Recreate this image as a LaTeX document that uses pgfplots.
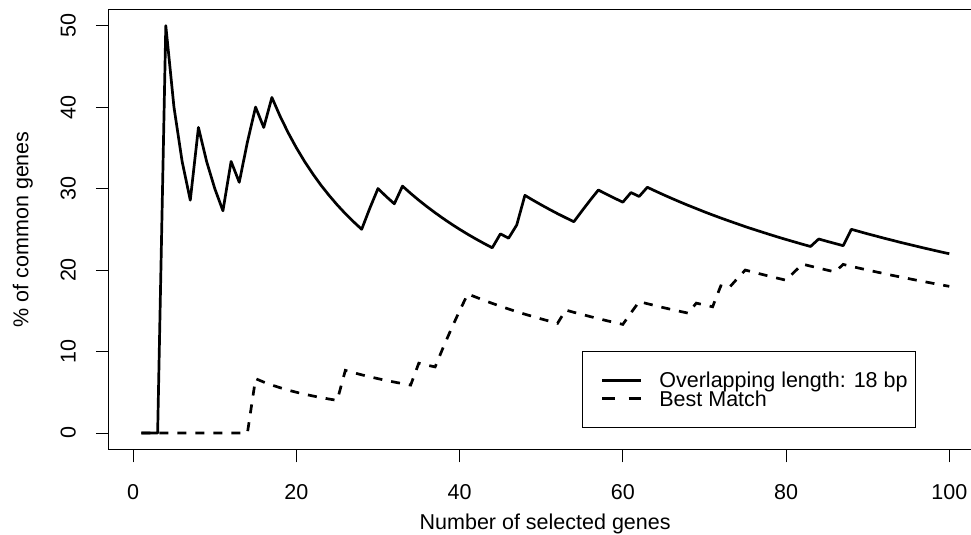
\documentclass[border=0pt]{standalone}
\usepackage{pgfplots}
\pgfplotsset{compat=1.18}
\usepackage{pgfplotstable}
\usepackage{fontspec}
\setmainfont{Liberation Sans}

% n, overlapping length 18 bp, best match  (% of common genes)
\pgfplotstableread{
n ov bm
1 0 0
2 0 0
3 0 0
4 50 0
5 40 0
6 33.33 0
7 28.57 0
8 37.5 0
9 33.33 0
10 30 0
11 27.27 0
12 33.33 0
13 30.77 0
14 35.71 0
15 40 6.67
16 37.5 6.25
17 41.18 5.88
18 38.89 5.56
19 36.84 5.26
20 35 5
21 33.33 4.76
22 31.82 4.55
23 30.43 4.35
24 29.17 4.17
25 28 4
26 26.92 7.69
27 25.93 7.41
28 25 7.14
29 27.59 6.90
30 30 6.67
31 29.03 6.45
32 28.13 6.25
33 30.30 6.06
34 29.41 5.88
35 28.57 8.57
36 27.78 8.33
37 27.03 8.11
38 26.32 10.53
39 25.64 12.82
40 25 15
41 24.39 17.07
42 23.81 16.67
43 23.26 16.28
44 22.73 15.91
45 24.44 15.56
46 23.91 15.22
47 25.53 14.89
48 29.17 14.58
49 28.57 14.29
50 28 14
51 27.45 13.73
52 26.92 13.46
53 26.42 15.09
54 25.93 14.81
55 27.27 14.55
56 28.57 14.29
57 29.82 14.04
58 29.31 13.79
59 28.81 13.56
60 28.33 13.33
61 29.51 14.75
62 29.03 16.13
63 30.16 15.87
64 29.69 15.63
65 29.23 15.38
66 28.79 15.15
67 28.36 14.93
68 27.94 14.71
69 27.54 15.94
70 27.14 15.71
71 26.76 15.49
72 26.39 18.06
73 26.03 17.81
74 25.68 18.92
75 25.33 20
76 25 19.74
77 24.68 19.48
78 24.36 19.23
79 24.05 18.99
80 23.75 18.75
81 23.46 19.75
82 23.17 20.73
83 22.89 20.48
84 23.81 20.24
85 23.53 20
86 23.26 19.77
87 22.99 20.69
88 25 20.45
89 24.72 20.22
90 24.44 20
91 24.18 19.78
92 23.91 19.57
93 23.66 19.35
94 23.40 19.15
95 23.16 18.95
96 22.92 18.75
97 22.68 18.56
98 22.45 18.37
99 22.22 18.18
100 22 18
}\genes

\begin{document}
\fontsize{10.75}{12.9}\selectfont
\begin{tikzpicture}
    \path[use as bounding box] (-54.5pt,-42.85pt) rectangle (431pt,224.65pt);
    \begin{axis}[
        scale only axis,
        width=431pt, height=220pt,
        xmin=-2.96, xmax=102.66,
        ymin=-2, ymax=52,
        xtick={0,20,...,100},
        ytick={0,10,...,50},
        tick pos=left,
        tick align=outside,
        major tick length=6.5pt,
        every tick/.style={black, line width=0.5pt},
        axis line style={draw=none},
        /pgf/number format/assume math mode=true,
        tick label style={font=\fontsize{10.75}{12.9}\selectfont},
        xticklabel style={anchor=base, inner sep=0pt},
        yticklabel style={rotate=90, anchor=base, inner sep=0pt},
        xticklabel shift=18.7pt,
        yticklabel shift=10.15pt,
        every axis x label/.style={at={(axis description cs:0.506,-0.1827)}, anchor=base},
        every axis y label/.style={at={(axis description cs:-0.0936,0.5)}, rotate=90, anchor=base},
        xlabel={Number of selected genes},
        ylabel={\% of common genes},
        legend style={at={(axis description cs:0.5493,0.0477)}, anchor=south west,
                      draw=black, line width=0.5pt, fill=white,
                      inner xsep=4pt, inner ysep=10pt,
                      row sep=0pt, column sep=8.35pt,
                      font=\fontsize{10.75}{12.9}\selectfont,
                      nodes={inner sep=0pt, text height=8.4pt, text depth=0.8pt},
                      cells={anchor=west}},
        legend image code/.code={\path (-5pt,0pt); \draw[#1] (0pt,0pt) -- (19.5pt,0pt);},
    ]
    \addplot[black, line width=1.35pt, line join=round] table[x=n, y=ov] {\genes};
    \addlegendentry{Overlapping length: 18 bp}
    \addplot[black, line width=1.35pt, dash pattern=on 4.5pt off 4.5pt,
             legend image code/.code={\path (-5pt,0pt); \draw[black, line width=1.35pt, dash pattern=on 6.4pt off 6.7pt] (0pt,0pt) -- (19.5pt,0pt);}]
        table[x=n, y=bm] {\genes};
    \addlegendentry{Best Match}
    \end{axis}
    \draw[line width=0.5pt] (current axis.north east) -- (current axis.north west)
        -- (current axis.south west) -- (current axis.south east);
\end{tikzpicture}
\end{document}
